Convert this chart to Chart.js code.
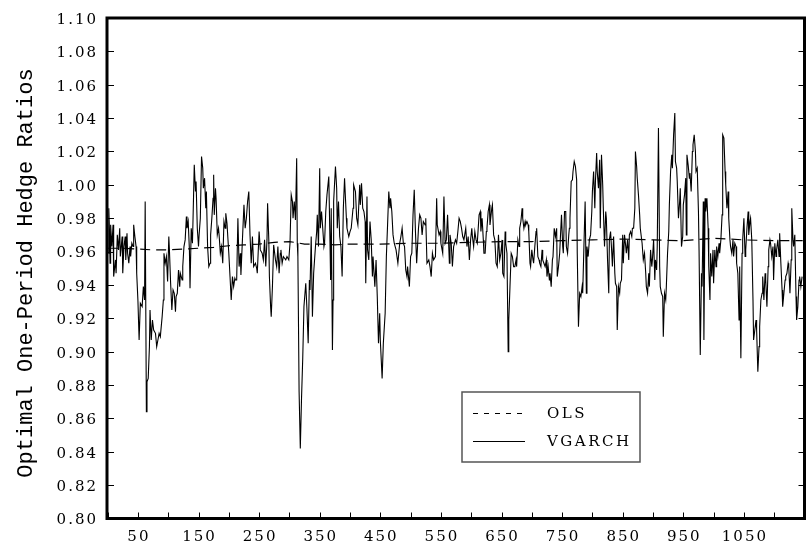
<!DOCTYPE html>
<html lang="en">
<head>
  <meta charset="UTF-8" />
  <title>Optimal One-Period Hedge Ratios</title>
  <script src="https://cdn.jsdelivr.net/npm/chart.js"></script>
  <style>
    html, body { margin: 0; padding: 0; background: #fff; }
  </style>
</head>
<body>
  <canvas id="hedgeChart" width="807" height="552"></canvas>

  <script>
    const obs = [
      1, 2, 3, 4, 5, 7, 9, 10, 13, 14, 16, 18, 20, 21, 24, 25, 27, 29, 30, 32,
      33, 35, 37, 38, 40, 42, 43, 45, 47, 48, 50, 52, 54, 57, 59, 61, 62, 64, 65, 67,
      69, 70, 72, 74, 76, 79, 81, 83, 85, 87, 90, 92, 93, 95, 97, 99, 101, 102, 104, 106,
      108, 110, 112, 113, 115, 117, 119, 120, 123, 124, 126, 128, 130, 131, 133, 135, 136, 138, 140, 141,
      143, 145, 146, 148, 150, 151, 153, 155, 157, 158, 160, 162, 163, 165, 167, 169, 170, 172, 174, 175,
      176, 178, 179, 181, 183, 184, 186, 188, 190, 192, 194, 195, 197, 200, 202, 204, 206, 208, 210, 211,
      213, 215, 217, 219, 220, 222, 225, 227, 229, 231, 233, 235, 237, 239, 241, 244, 246, 247, 250, 252,
      255, 257, 259, 261, 263, 264, 266, 267, 269, 270, 272, 274, 277, 279, 281, 283, 285, 286, 288, 290,
      292, 294, 296, 299, 301, 303, 305, 306, 308, 310, 312, 313, 314, 316, 318, 320, 322, 324, 327, 329,
      331, 333, 334, 336, 338, 340, 343, 345, 346, 348, 350, 351, 353, 355, 357, 358, 360, 362, 365, 367,
      368, 369, 371, 372, 373, 376, 378, 379, 381, 383, 385, 387, 389, 391, 394, 395, 398, 400, 402, 405,
      406, 409, 411, 413, 416, 417, 419, 421, 423, 425, 426, 428, 429, 431, 433, 435, 437, 438, 441, 443,
      445, 447, 449, 450, 453, 455, 458, 460, 462, 464, 466, 467, 469, 471, 473, 476, 479, 482, 484, 486,
      488, 490, 492, 494, 495, 498, 500, 502, 504, 506, 508, 510, 513, 515, 517, 519, 521, 524, 525, 527,
      530, 532, 534, 536, 538, 541, 543, 544, 547, 549, 550, 553, 555, 557, 559, 561, 564, 565, 567, 569,
      571, 574, 576, 578, 580, 582, 584, 586, 588, 591, 593, 595, 597, 599, 601, 602, 604, 606, 608, 610,
      613, 615, 616, 618, 620, 621, 623, 625, 626, 628, 630, 631, 634, 635, 637, 639, 641, 643, 645, 647,
      649, 651, 652, 654, 656, 657, 659, 661, 662, 664, 666, 668, 670, 672, 674, 675, 677, 679, 680, 682,
      684, 685, 687, 689, 690, 692, 694, 695, 697, 698, 700, 702, 703, 705, 707, 708, 710, 712, 713, 715,
      717, 718, 720, 722, 724, 725, 727, 729, 730, 732, 734, 735, 737, 739, 741, 742, 744, 746, 747, 749,
      751, 752, 754, 756, 757, 759, 761, 762, 763, 765, 767, 768, 770, 772, 774, 775, 777, 779, 781, 783,
      784, 786, 788, 790, 791, 793, 795, 797, 799, 800, 802, 804, 805, 807, 808, 810, 812, 813, 815, 817,
      818, 820, 822, 823, 825, 827, 828, 830, 832, 833, 835, 837, 838, 840, 841, 843, 845, 846, 848, 850,
      851, 853, 855, 856, 858, 860, 861, 863, 865, 866, 868, 870, 871, 873, 874, 876, 878, 879, 882, 884,
      886, 888, 889, 891, 893, 894, 896, 898, 899, 901, 903, 904, 906, 907, 909, 911, 912, 914, 916, 917,
      919, 921, 922, 924, 926, 927, 929, 931, 932, 934, 936, 937, 939, 940, 942, 944, 945, 947, 949, 950,
      952, 954, 955, 956, 958, 960, 961, 963, 965, 966, 968, 970, 971, 973, 975, 976, 978, 980, 981, 983,
      984, 986, 987, 989, 991, 992, 994, 995, 997, 999, 1000, 1002, 1004, 1005, 1007, 1009, 1010, 1012, 1014, 1015,
      1017, 1019, 1020, 1022, 1024, 1025, 1027, 1028, 1030, 1032, 1033, 1035, 1037, 1038, 1040, 1042, 1043, 1045, 1047, 1048,
      1050, 1052, 1053, 1055, 1057, 1058, 1060, 1061, 1063, 1065, 1066, 1068, 1070, 1071, 1073, 1075, 1076, 1078, 1080, 1081,
      1083, 1085, 1086, 1088, 1090, 1091, 1093, 1094, 1096, 1098, 1099, 1101, 1103, 1104, 1106, 1108, 1109, 1111, 1113, 1114,
      1116, 1118, 1119, 1121, 1123, 1124, 1126, 1128, 1129, 1131, 1132, 1134, 1136, 1137, 1139, 1141, 1142, 1144, 1146, 1147
    ];

    const vgarch = [
      0.959, 0.986, 0.974, 0.953, 0.976, 0.963, 0.976, 0.945, 0.955, 0.947, 0.970, 0.961, 0.974, 0.957, 0.969, 0.947, 0.963, 0.969, 0.955, 0.971,
      0.959, 0.953, 0.963, 0.957, 0.965, 0.963, 0.976, 0.969, 0.963, 0.947, 0.931, 0.907, 0.929, 0.927, 0.939, 0.931, 0.990, 0.864, 0.882, 0.884,
      0.903, 0.925, 0.907, 0.919, 0.913, 0.911, 0.903, 0.907, 0.911, 0.909, 0.921, 0.931, 0.959, 0.953, 0.957, 0.942, 0.969, 0.961, 0.941, 0.925,
      0.937, 0.935, 0.924, 0.933, 0.935, 0.949, 0.939, 0.947, 0.943, 0.951, 0.963, 0.967, 0.981, 0.974, 0.978, 0.961, 0.938, 0.974, 0.965, 0.980,
      1.012, 0.996, 1.002, 0.974, 0.963, 0.970, 0.980, 1.017, 1.010, 0.998, 1.004, 0.986, 0.996, 0.963, 0.951, 0.953, 0.970, 0.980, 0.992, 1.006,
      0.982, 0.998, 0.992, 0.970, 0.974, 0.970, 0.959, 0.963, 0.953, 0.978, 0.974, 0.983, 0.977, 0.959, 0.945, 0.931, 0.945, 0.939, 0.944, 0.943,
      0.943, 0.980, 0.951, 0.959, 0.946, 0.963, 0.988, 0.974, 0.980, 0.990, 0.996, 0.970, 0.953, 0.969, 0.951, 0.953, 0.950, 0.947, 0.972, 0.961,
      0.959, 0.955, 0.967, 0.951, 0.967, 0.989, 0.967, 0.945, 0.927, 0.921, 0.939, 0.964, 0.955, 0.951, 0.963, 0.947, 0.959, 0.961, 0.953, 0.957,
      0.956, 0.955, 0.957, 0.955, 0.965, 0.994, 0.990, 0.980, 0.990, 0.979, 1.016, 0.965, 0.957, 0.876, 0.842, 0.872, 0.896, 0.927, 0.941, 0.925,
      0.905, 0.943, 0.937, 0.969, 0.921, 0.947, 0.963, 0.972, 0.982, 0.963, 1.010, 0.974, 0.984, 0.974, 0.963, 0.965, 0.984, 0.994, 1.005, 0.965,
      0.943, 0.986, 0.901, 0.931, 0.990, 1.011, 0.998, 0.974, 0.990, 0.969, 0.963, 0.945, 0.986, 1.004, 0.980, 0.974, 0.969, 0.972, 0.974, 0.986,
      1.000, 0.996, 0.980, 0.976, 1.000, 0.988, 1.001, 0.986, 0.984, 0.978, 0.941, 0.993, 0.961, 0.955, 0.978, 0.967, 0.945, 0.957, 0.939, 0.955,
      0.933, 0.905, 0.923, 0.907, 0.884, 0.905, 0.923, 0.957, 0.976, 0.996, 0.986, 0.992, 0.984, 0.970, 0.965, 0.961, 0.953, 0.965, 0.969, 0.974,
      0.965, 0.963, 0.949, 0.945, 0.951, 0.939, 0.957, 0.959, 0.982, 0.997, 0.972, 0.953, 0.974, 0.982, 0.980, 0.970, 0.978, 0.976, 0.980, 0.953,
      0.955, 0.951, 0.945, 0.959, 0.955, 0.957, 0.992, 0.976, 0.970, 0.972, 0.965, 0.959, 0.993, 0.965, 0.967, 0.982, 0.953, 0.970, 0.965, 0.951,
      0.963, 0.967, 0.965, 0.972, 0.980, 0.978, 0.974, 0.969, 0.967, 0.974, 0.963, 0.969, 0.955, 0.967, 0.974, 0.969, 0.963, 0.972, 0.967, 0.965,
      0.982, 0.984, 0.972, 0.980, 0.967, 0.959, 0.959, 0.972, 0.974, 0.984, 0.988, 0.976, 0.986, 0.988, 0.970, 0.967, 0.953, 0.951, 0.970, 0.955,
      0.959, 0.967, 0.947, 0.945, 0.972, 0.965, 0.959, 0.900, 0.919, 0.939, 0.959, 0.957, 0.951, 0.951, 0.955, 0.951, 0.967, 0.963, 0.974, 0.978,
      0.986, 0.980, 0.974, 0.978, 0.976, 0.978, 0.976, 0.972, 0.953, 0.951, 0.961, 0.955, 0.953, 0.963, 0.972, 0.974, 0.957, 0.955, 0.953, 0.951,
      0.961, 0.955, 0.953, 0.951, 0.955, 0.945, 0.951, 0.943, 0.947, 0.939, 0.955, 0.957, 0.974, 0.969, 0.974, 0.945, 0.951, 0.959, 0.967, 0.982,
      0.963, 0.959, 0.984, 0.984, 0.963, 0.959, 0.970, 0.974, 0.980, 1.002, 1.003, 1.008, 1.014, 1.011, 1.003, 0.959, 0.915, 0.935, 0.933, 0.939,
      0.935, 0.963, 0.990, 0.935, 0.963, 0.957, 0.967, 0.970, 0.984, 0.996, 1.008, 0.986, 1.002, 1.019, 1.008, 0.998, 1.015, 0.974, 1.018, 1.000,
      0.986, 0.963, 0.984, 0.980, 0.955, 0.935, 0.967, 0.972, 0.959, 0.951, 0.969, 0.947, 0.941, 0.939, 0.913, 0.939, 0.935, 0.941, 0.943, 0.970,
      0.953, 0.970, 0.963, 0.959, 0.967, 0.955, 0.970, 0.972, 0.969, 0.974, 0.974, 0.986, 1.020, 1.011, 1.004, 0.994, 0.982, 0.974, 0.965, 0.955,
      0.959, 0.947, 0.939, 0.935, 0.947, 0.939, 0.961, 0.951, 0.955, 0.967, 0.943, 0.955, 0.949, 0.963, 1.034, 0.951, 0.939, 0.935, 0.933, 0.909,
      0.935, 0.931, 0.939, 0.959, 0.972, 0.988, 1.008, 1.018, 1.010, 1.030, 1.043, 1.014, 1.010, 1.002, 0.980, 0.990, 0.998, 0.963, 0.969, 0.988,
      0.994, 1.004, 0.970, 1.018, 1.012, 1.004, 1.007, 0.996, 1.020, 1.024, 1.030, 1.020, 1.008, 1.010, 0.984, 0.961, 0.898, 0.947, 0.939, 0.990,
      0.907, 0.992, 0.984, 0.992, 0.974, 0.951, 0.931, 0.959, 0.945, 0.961, 0.941, 0.961, 0.951, 0.963, 0.957, 0.965, 0.959, 0.967, 0.982, 1.030,
      1.028, 1.008, 1.000, 0.986, 0.996, 0.980, 0.967, 0.963, 0.959, 0.967, 0.957, 0.965, 0.963, 0.953, 0.947, 0.919, 0.951, 0.896, 0.959, 0.967,
      0.980, 0.957, 0.961, 0.974, 0.984, 0.970, 0.978, 0.980, 0.967, 0.931, 0.907, 0.913, 0.919, 0.913, 0.888, 0.903, 0.915, 0.931, 0.935, 0.945,
      0.931, 0.947, 0.943, 0.927, 0.951, 0.961, 0.967, 0.965, 0.957, 0.963, 0.943, 0.965, 0.957, 0.961, 0.967, 0.957, 0.971, 0.953, 0.937, 0.927,
      0.935, 0.943, 0.945, 0.947, 0.953, 0.951, 0.935, 0.955, 0.986, 0.967, 0.963, 0.970, 0.933, 0.919, 0.927, 0.943, 0.945, 0.939, 0.945, 0.945
    ];

    // OLS hedge ratio, nearly flat
    const olsObs = [1, 25, 50, 75, 100, 125, 150, 175, 200, 225, 250, 275, 300, 325, 350, 375, 400, 450, 500, 550,
                    600, 650, 700, 750, 800, 850, 900, 950, 1000, 1050, 1100, 1147];
    const ols = [0.962, 0.962, 0.9615, 0.961, 0.961, 0.9615, 0.962, 0.9625, 0.9635, 0.964, 0.9645, 0.9655, 0.966, 0.9645, 0.9645, 0.964,
                 0.9645, 0.9645, 0.965, 0.965, 0.9655, 0.966, 0.966, 0.9665, 0.967, 0.9675, 0.967, 0.9665, 0.968, 0.967, 0.9665, 0.9665];

    const seriesNames = ["OLS", "VGARCH"];
    const xTicks = [0, 50, 100, 150, 200, 250, 300, 350, 400, 450, 500, 550, 600,
                    650, 700, 750, 800, 850, 900, 950, 1000, 1050, 1100];
    const xLabels = [50, 150, 250, 350, 450, 550, 650, 750, 850, 950, 1050];
    const yTitle = "Optimal One-Period Hedge Ratios";

    const tickFont = { family: "'DejaVu Serif', serif", size: 15 };

    const decor = {
      id: "decor",
      beforeDraw(chart) {
        chart.ctx.letterSpacing = "2px";
      },
      afterDraw(chart) {
        const { ctx, chartArea: a, scales: { x, y } } = chart;
        ctx.save();
        ctx.strokeStyle = "#000";
        ctx.lineWidth = 1;
        ctx.beginPath();
        y.ticks.forEach((t) => {
          const py = Math.round(y.getPixelForValue(t.value)) + 0.5;
          ctx.moveTo(a.left, py);
          ctx.lineTo(a.left + 7, py);
          ctx.moveTo(a.right, py);
          ctx.lineTo(a.right - 6, py);
        });
        x.ticks.forEach((t) => {
          const px = Math.round(x.getPixelForValue(t.value)) + 0.5;
          ctx.moveTo(px, a.bottom);
          ctx.lineTo(px, a.bottom - 6);
        });
        ctx.stroke();

        ctx.lineWidth = 3;
        ctx.strokeRect(a.left, a.top, a.right - a.left, a.bottom - a.top);

        // y axis title
        ctx.letterSpacing = "0px";
        ctx.fillStyle = "#000";
        ctx.font = "22px 'Liberation Mono', monospace";
        ctx.textAlign = "center";
        ctx.textBaseline = "middle";
        ctx.translate(26, 273);
        ctx.rotate(-Math.PI / 2);
        ctx.fillText(yTitle, 0, 0);
        ctx.setTransform(1, 0, 0, 1, 0, 0);

        // legend box
        const bx = 462, by = 392, bw = 178, bh = 70;
        ctx.strokeStyle = "#555";
        ctx.lineWidth = 1.5;
        ctx.strokeRect(bx, by, bw, bh);
        ctx.letterSpacing = "2.5px";
        ctx.font = "15px 'DejaVu Serif', serif";
        ctx.textAlign = "left";
        chart.data.datasets.forEach((ds, i) => {
          const ly = by + 21 + i * 28;
          ctx.strokeStyle = "#000";
          ctx.lineWidth = 1;
          ctx.setLineDash(i === 0 ? [5, 6] : []);
          ctx.beginPath();
          ctx.moveTo(bx + 11, ly + 0.5);
          ctx.lineTo(bx + 63, ly + 0.5);
          ctx.stroke();
          ctx.setLineDash([]);
          ctx.fillText(ds.label, bx + 85, ly + 1);
        });
        ctx.restore();
      }
    };

    new Chart(document.getElementById("hedgeChart"), {
      type: "line",
      data: {
        datasets: [
          {
            label: seriesNames[0],
            data: olsObs.map((o, i) => ({ x: o, y: ols[i] })),
            borderColor: "#000",
            borderWidth: 1.2,
            borderDash: [10, 6],
            pointRadius: 0,
            tension: 0
          },
          {
            label: seriesNames[1],
            data: obs.map((o, i) => ({ x: o, y: vgarch[i] })),
            borderColor: "#000",
            borderWidth: 1.1,
            pointRadius: 0,
            tension: 0
          }
        ]
      },
      options: {
        responsive: false,
        animation: false,
        devicePixelRatio: 1,
        layout: { padding: { top: 9.5, right: 2.5, left: 0, bottom: 0 } },
        plugins: {
          legend: { display: false },
          tooltip: { enabled: false }
        },
        scales: {
          x: {
            type: "linear",
            min: -1,
            max: 1150,
            grid: { display: false, drawTicks: false },
            border: { display: false },
            afterBuildTicks: (s) => { s.ticks = xTicks.map((v) => ({ value: v })); },
            ticks: {
              autoSkip: false,
              maxRotation: 0,
              padding: 10,
              labelOffset: 1,
              color: "#000",
              font: tickFont,
              callback: (v) => (xLabels.includes(v) ? String(v) : "")
            },
            afterFit: (s) => { s.height = 33.5; }
          },
          y: {
            min: 0.8,
            max: 1.1,
            grid: { display: false, drawTicks: false },
            border: { display: false },
            ticks: {
              stepSize: 0.02,
              padding: 9,
              labelOffset: 2,
              color: "#000",
              font: tickFont,
              callback: (v) => v.toFixed(2)
            },
            afterFit: (s) => { s.width = 107; }
          }
        }
      },
      plugins: [decor]
    });
  </script>
</body>
</html>
